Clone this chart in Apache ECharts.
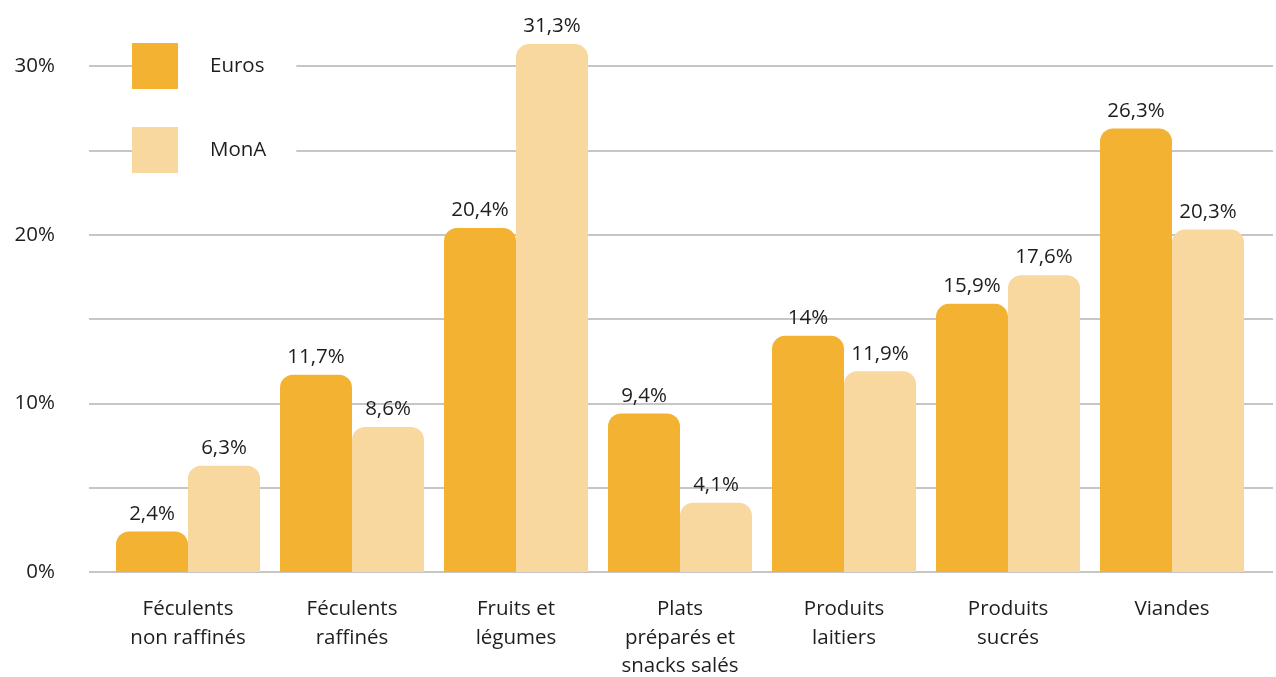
<!DOCTYPE html>
<html><head><meta charset="utf-8">
<script src="https://cdn.jsdelivr.net/npm/echarts@6/dist/echarts.min.js"></script>
<style>html,body{margin:0;padding:0;background:#fff}#c{width:1276px;height:677px}</style>
</head><body><div id="c"></div>
<script>
const categories = ['Féculents\nnon raffinés','Féculents\nraffinés','Fruits et\nlégumes','Plats\npréparés et\nsnacks salés','Produits\nlaitiers','Produits\nsucrés','Viandes'];
const euros = [2.4, 11.7, 20.4, 9.4, 14, 15.9, 26.3];
const mona = [6.3, 8.6, 31.3, 4.1, 11.9, 17.6, 20.3];
const seriesNames = ['Euros','MonA'];
const yTicks = [0, 10, 20, 30];

const FONT = 'Open Sans';
const TXT = '#1e1e1e';
const fmt = v => String(v).replace('.', ',') + '%';
const chart = echarts.init(document.getElementById('c'), null, {renderer:'canvas'});
const lbl = {show:true, position:'top', distance:7, fontFamily:FONT, fontSize:20.5, color:TXT, formatter:p=>fmt(p.value)};
chart.setOption({
  animation:false,
  textStyle:{fontFamily:FONT},
  grid:[
    {left:89, right:3, top:66, bottom:105, containLabel:false, outerBoundsMode:'none'},
    {left:106, right:22, top:66, bottom:105, containLabel:false, outerBoundsMode:'none'}
  ],
  xAxis:[
    {gridIndex:0, type:'value', show:false, min:0, max:1},
    {gridIndex:1, type:'category', data:categories,
     axisLine:{show:false}, axisTick:{show:false},
     axisLabel:{margin:23, fontFamily:FONT, fontSize:20.5, color:TXT, lineHeight:28.5}}
  ],
  yAxis:[
    {gridIndex:0, type:'value', min:0, max:30, interval:5,
     axisLine:{show:false}, axisTick:{show:false},
     splitLine:{show:true, lineStyle:{color:'#b3b3b3', width:1.5}},
     axisLabel:{margin:34, fontFamily:FONT, fontSize:20.5, color:TXT,
       formatter:v=> yTicks.indexOf(v) >= 0 ? v + '%' : ''}},
    {gridIndex:1, type:'value', min:0, max:30, show:false, splitLine:{show:false}}
  ],
  legend:{
    orient:'vertical', left:132, top:43, itemWidth:46, itemHeight:46, itemGap:38,
    icon:'rect', backgroundColor:'#fff', padding:[0,30,0,0],
    textStyle:{fontFamily:FONT, fontSize:20.5, color:TXT, padding:[8,0,0,27]},
    data:seriesNames
  },
  series:[
    {name:seriesNames[0], type:'bar', xAxisIndex:1, yAxisIndex:1, data:euros, barWidth:72, barGap:'0%', clip:false,
     itemStyle:{color:'#F3B231', borderRadius:[13,13,0,0]}, label:lbl},
    {name:seriesNames[1], type:'bar', xAxisIndex:1, yAxisIndex:1, data:mona, barWidth:72, barGap:'0%', clip:false,
     itemStyle:{color:'#F8D89F', borderRadius:[13,13,0,0]}, label:lbl}
  ]
});
</script></body></html>
